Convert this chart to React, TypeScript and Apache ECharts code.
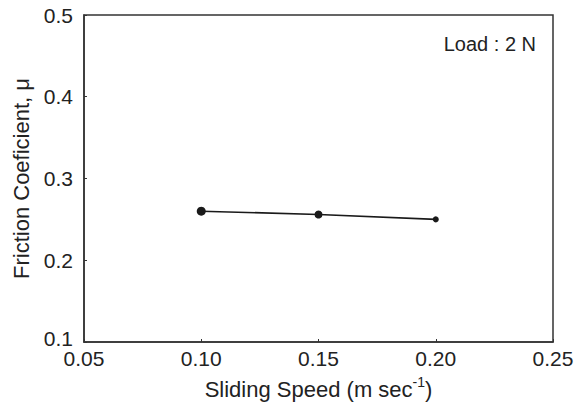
import React, { useEffect, useRef } from "react";
import * as echarts from "echarts";

const speeds = [0.1, 0.15, 0.2];
const friction = [0.26, 0.256, 0.25];
const markerSizes = [9, 8, 6];
const xTicks = { min: 0.05, max: 0.25, interval: 0.05 };
const yTicks = { min: 0.1, max: 0.5, interval: 0.1 };
const loadLabel = "Load : 2 N";

export default function App() {
  const ref = useRef<HTMLDivElement>(null);
  useEffect(() => {
    if (!ref.current) return;
    const chart = echarts.init(ref.current, null, { renderer: "svg" });
    const font = "Liberation Sans, Arial, sans-serif";
    const ink = "#222";
    chart.setOption({
      animation: false,
      backgroundColor: "#fff",
      textStyle: { fontFamily: font, color: ink },
      grid: {
        left: 84,
        right: 31,
        top: 15,
        bottom: 67,
        show: true,
        borderColor: "#333",
        borderWidth: 1.5,
        backgroundColor: "transparent",
      },
      xAxis: {
        type: "value",
        min: xTicks.min,
        max: xTicks.max,
        interval: xTicks.interval,
        axisLine: { show: true, lineStyle: { color: "#333", width: 1.5 } },
        axisTick: { show: true, inside: true, length: 3, lineStyle: { color: "#333" } },
        splitLine: { show: false },
        axisLabel: {
          fontSize: 21,
          lineHeight: 15,
          color: ink,
          fontFamily: font,
          margin: 9,
          formatter: (v: number) => v.toFixed(2),
        },
        name: "Sliding Speed (m sec{sup|-1}{b|)}",
        nameLocation: "middle",
        nameGap: 33,
        nameTextStyle: {
          fontSize: 22,
          color: ink,
          fontFamily: font,
          rich: {
            sup: { fontSize: 14, color: ink, fontFamily: font, padding: [0, 0, 15, 0] },
            b: { fontSize: 22, color: ink, fontFamily: font },
          },
        },
      },
      yAxis: {
        type: "value",
        min: yTicks.min,
        max: yTicks.max,
        interval: yTicks.interval,
        axisLine: { show: true, lineStyle: { color: "#333", width: 1.5 } },
        axisTick: { show: true, inside: true, length: 3, lineStyle: { color: "#333" } },
        splitLine: { show: false },
        axisLabel: {
          fontSize: 21,
          lineHeight: 15,
          color: ink,
          fontFamily: font,
          margin: 11,
          formatter: (v: number) =>
            Math.abs(v - yTicks.min) < 1e-9 ? "{low|" + v.toFixed(1) + "}" : v.toFixed(1),
          rich: {
            low: { fontSize: 21, lineHeight: 15, color: ink, fontFamily: font, padding: [0, 0, 7, 0] },
          },
        },
        name: "Friction Coeficient, μ",
        nameLocation: "middle",
        nameGap: 51,
        nameTextStyle: { fontSize: 22, color: ink, fontFamily: font },
      },
      graphic: [
        {
          type: "text",
          right: 48,
          top: 34,
          style: { text: loadLabel, fontSize: 20, fill: ink, fontFamily: font },
        },
      ],
      series: [
        {
          type: "line",
          data: speeds.map((s, i) => ({
            value: [s, friction[i]],
            symbolSize: markerSizes[i],
          })),
          symbol: "circle",
          lineStyle: { color: "#1a1a1a", width: 1.6 },
          itemStyle: { color: "#1a1a1a" },
        },
      ],
    });
    return () => chart.dispose();
  }, []);
  return <div ref={ref} style={{ width: 584, height: 409, position: "absolute", left: 0, top: 0 }} />;
}
